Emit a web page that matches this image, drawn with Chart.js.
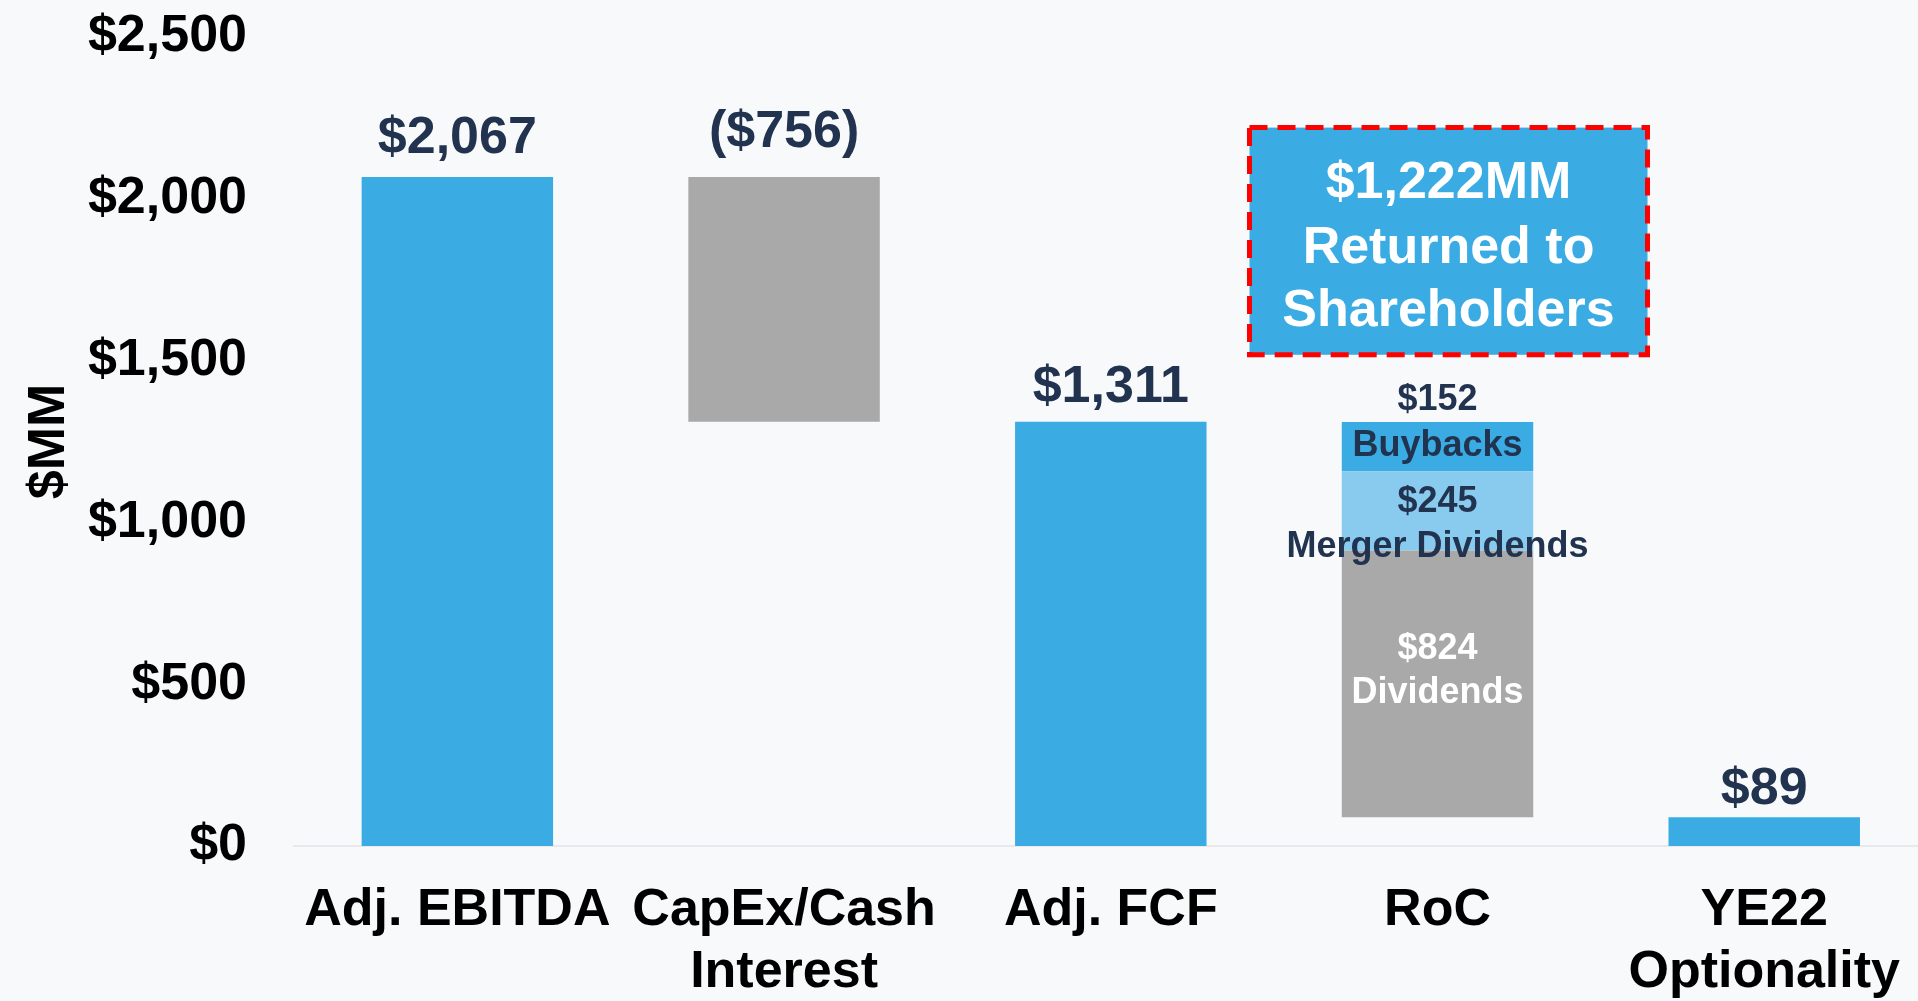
<!DOCTYPE html>
<html>
<head>
<meta charset="utf-8">
<script src="https://cdn.jsdelivr.net/npm/chart.js@4"></script>
<style>
  html, body { margin: 0; padding: 0; background: #f8f9fb; overflow: hidden; }
  #wrap { width: 1933px; height: 1001px; }
</style>
</head>
<body>
<div id="wrap"><canvas id="bridge" width="1933" height="1001"></canvas></div>
<script>
// data
const categories = ['Adj. EBITDA', ['CapEx/Cash', 'Interest'], 'Adj. FCF', 'RoC', ['YE22', 'Optionality']]
const yTickLabels = ['$0', '$500', '$1,000', '$1,500', '$2,000', '$2,500']
const ebitda = 2067
const capex = -756
const fcf = 1311
const optionality = 89
const rocNames = ['Dividends', 'Merger Dividends', 'Buybacks']
const rocValues = [824, 245, 152]
const returnedTotal = 1222

const blue = '#3babe3'
const lightBlue = '#88cbee'
const grey = '#a9a9a9'
const navy = '#223350'
const fontFamily = '"Liberation Sans", Arial, sans-serif'

Chart.defaults.font.family = fontFamily

const fmt = v => v < 0 ? '($' + Math.abs(v).toLocaleString('en-US') + ')' : '$' + v.toLocaleString('en-US')

// main waterfall bars (floating)
const mainBars = [[0, ebitda], [ebitda + capex, ebitda], [0, fcf], null, [0, optionality]]
const mainColors = [blue, grey, blue, blue, blue]
const topLabels = [fmt(ebitda), fmt(capex), fmt(fcf), null, fmt(optionality)]

// RoC stacked pieces, sitting on top of the optionality amount
let start = optionality
const rocColors = [grey, lightBlue, blue]
const rocDatasets = rocValues.map((v, i) => {
    const d = [null, null, null, [start, start + v], null]
    start += v
    return {
        label: rocNames[i],
        data: d,
        backgroundColor: rocColors[i],
        borderWidth: 0,
        grouped: false,
        barPercentage: 0.586,
        categoryPercentage: 1
    }
})

const labelsPlugin = {
    id: 'bridgeLabels',
    afterDatasetsDraw(chart) {
        const ctx = chart.ctx
        const xs = chart.scales.x
        const ys = chart.scales.y
        const main = chart.getDatasetMeta(0)
        ctx.save()
        ctx.textAlign = 'center'
        ctx.textBaseline = 'alphabetic'

        // values over the bars
        ctx.font = 'bold 52px ' + fontFamily
        ctx.fillStyle = navy
        const gaps = [24, 30, 20, 0, 13]
        topLabels.forEach((t, i) => {
            if (!t) return
            const bar = main.data[i]
            ctx.fillText(t, bar.x, Math.min(bar.y, bar.base) - gaps[i])
        })

        // RoC pieces
        ctx.font = 'bold 36px ' + fontFamily
        const seg = k => {
            const el = chart.getDatasetMeta(k + 1).data[3]
            const top = Math.min(el.y, el.base)
            const bottom = Math.max(el.y, el.base)
            return { x: el.x, top: top, mid: (top + bottom) / 2 }
        }
        const div = seg(0), mer = seg(1), buy = seg(2)
        ctx.fillStyle = navy
        ctx.fillText(fmt(rocValues[2]), buy.x, buy.top - 12)
        ctx.fillText(rocNames[2], buy.x, buy.mid + 9)
        ctx.fillText(fmt(rocValues[1]), mer.x, mer.mid + 1)
        ctx.fillText(rocNames[1], mer.x, mer.mid + 46)
        ctx.fillStyle = '#ffffff'
        ctx.fillText(fmt(rocValues[0]), div.x, div.mid - 25)
        ctx.fillText(rocNames[0], div.x, div.mid + 19)

        // callout box
        const cx = xs.getPixelForValue(3)
        const left = cx - 188, right = cx + 210
        const top = ys.getPixelForValue(2220), bottom = ys.getPixelForValue(1518)
        ctx.fillStyle = blue
        ctx.fillRect(left, top, right - left, bottom - top)
        ctx.strokeStyle = '#ff0000'
        ctx.lineWidth = 5
        ctx.setLineDash([18, 10])
        ctx.strokeRect(left, top, right - left, bottom - top)
        ctx.setLineDash([])
        ctx.fillStyle = '#ffffff'
        ctx.font = 'bold 52px ' + fontFamily
        const mx = (left + right) / 2
        ctx.fillText(fmt(returnedTotal) + 'MM', mx, top + 70)
        ctx.fillText('Returned to', mx, top + 135)
        ctx.fillText('Shareholders', mx, top + 198)
        ctx.restore()
    }
}

new Chart(document.getElementById('bridge'), {
    type: 'bar',
    data: {
        labels: categories,
        datasets: [
            {
                label: 'Main',
                data: mainBars,
                backgroundColor: mainColors,
                borderWidth: 0,
                grouped: false,
                barPercentage: 0.586,
                categoryPercentage: 1
            },
            ...rocDatasets
        ]
    },
    options: {
        responsive: false,
        animation: false,
        layout: { padding: 0 },
        plugins: {
            legend: { display: false },
            tooltip: { enabled: false }
        },
        scales: {
            x: {
                afterFit(scale) {
                    scale.height = 155
                    scale.paddingTop = 0
                    scale.paddingBottom = 0
                },
                ticks: {
                    padding: 33,
                    color: '#000',
                    autoSkip: false,
                    maxRotation: 0,
                    font: { size: 52, weight: 'bold' }
                },
                grid: { display: false, drawTicks: false },
                border: { display: true, color: '#e8e9ec', width: 2 }
            },
            y: {
                min: 0,
                max: 2500,
                afterFit(scale) {
                    scale.width = 294
                    scale.paddingTop = 37
                    scale.paddingBottom = 0
                },
                ticks: {
                    stepSize: 500,
                    padding: 47,
                    color: '#000',
                    font: { size: 52, weight: 'bold' },
                    callback: (v, i) => yTickLabels[i]
                },
                grid: { display: false, drawTicks: false },
                border: { display: false },
                title: {
                    display: true,
                    text: '$MM',
                    color: '#000',
                    font: { size: 52, weight: 'bold' },
                    padding: { top: 18, bottom: 0 }
                }
            }
        }
    },
    plugins: [labelsPlugin]
})
</script>
</body>
</html>
